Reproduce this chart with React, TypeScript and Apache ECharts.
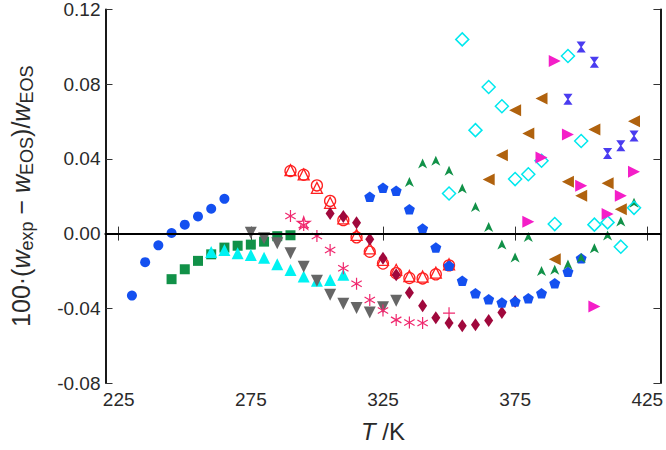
import React, { useEffect, useRef } from "react";
import * as echarts from "echarts";

// ---- data (T in K, deviation in %) ----
const xTicks = [225, 275, 325, 375, 425];

const blueCircleT = [230, 235, 240, 245, 250, 255, 260, 265];
const blueCircleY = [-0.0332, -0.0153, -0.0063, 0.0003, 0.0048, 0.0092, 0.0133, 0.0186];

const greenSquareT = [245, 250, 255, 260, 265, 270, 275, 280, 285, 290];
const greenSquareY = [-0.0244, -0.0191, -0.0146, -0.0111, -0.0075, -0.0065, -0.0059, -0.0043, -0.0014, -0.0009];

const cyanTriT = [260, 265, 270, 275, 280, 285, 290, 295, 300, 305, 310];
const cyanTriY = [-0.0098, -0.0088, -0.0105, -0.0114, -0.0129, -0.0164, -0.0195, -0.023, -0.0253, -0.0248, -0.0221];

const grayT = [275, 280, 285, 290, 295, 300, 305, 310, 315, 320, 325, 330];
const grayY = [0.0005, -0.0025, -0.0052, -0.0105, -0.0177, -0.0253, -0.0328, -0.0376, -0.0399, -0.0423, -0.0394, -0.0359];

const redT = [290, 295, 300, 305, 310, 315, 320, 325, 330, 335, 340, 345, 350];
const redTriY = [0.034, 0.0317, 0.0245, 0.0165, 0.0082, -0.0007, -0.0079, -0.0141, -0.0194, -0.0227, -0.023, -0.0209, -0.0164];
const redCircY = [0.0335, 0.0315, 0.0258, 0.0175, 0.0072, -0.002, -0.0097, -0.016, -0.0212, -0.0238, -0.024, -0.0218, -0.017];

const pinkAstT = [290, 295, 300, 305, 310, 315, 320, 325, 330, 335, 340];
const pinkAstY = [0.0094, 0.0046, -0.0013, -0.0088, -0.0185, -0.0269, -0.0355, -0.0412, -0.0462, -0.0476, -0.0479];
const pinkStarT = [295];
const pinkStarY = [0.0057];
const pinkPlusT = [350];
const pinkPlusY = [-0.0426];

const maroonT = [305, 310, 315, 320, 325, 330, 335, 340, 345, 350, 355, 360, 365, 370, 375];
const maroonY = [0.0108, 0.0092, 0.0058, -0.003, -0.0132, -0.0221, -0.0317, -0.0387, -0.0451, -0.0479, -0.0494, -0.0488, -0.0465, -0.0422, -0.0364];

const pentT = [320, 325, 330, 335, 340, 345, 350, 355, 360, 365, 370, 375, 380, 385, 390, 395, 400];
const pentY = [0.0197, 0.0245, 0.0229, 0.013, 0.0027, -0.0074, -0.0172, -0.0253, -0.0319, -0.0351, -0.0369, -0.0364, -0.0346, -0.0319, -0.0266, -0.0204, -0.0132];

const arrowT = [335, 340, 345, 350, 355, 360, 365, 370, 375, 380, 385, 390, 395, 400, 405, 410, 415, 420];
const arrowY = [0.0276, 0.0376, 0.039, 0.0336, 0.0242, 0.0142, 0.0035, -0.0059, -0.0128, -0.0018, -0.02, -0.0194, -0.0165, -0.013, -0.0079, -0.001, 0.0065, 0.0165];

const diamondT = [350, 355, 360, 365, 370, 375, 380, 385, 390, 395, 400, 405, 410, 415, 420];
const diamondY = [0.0215, 0.104, 0.0554, 0.0785, 0.0682, 0.0292, 0.0318, 0.039, 0.0051, 0.0951, 0.0496, 0.0048, 0.006, -0.007, 0.0138];

const magentaT = [380, 385, 390, 395, 400, 405, 410, 415, 420];
const magentaY = [0.0064, 0.0408, 0.0924, 0.0531, 0.0256, -0.0391, 0.0105, 0.0203, 0.0331];

const brownT = [365, 370, 375, 380, 385, 390, 395, 400, 405, 410, 415, 420];
const brownY = [0.029, 0.042, 0.066, 0.0536, 0.0723, -0.0138, 0.0277, 0.0203, 0.0557, 0.0269, 0.0131, 0.0602];

const hourT = [395, 400, 405, 410, 415, 420];
const hourY = [0.0719, 0.0999, 0.0918, 0.0429, 0.047, 0.0523];

const zip = (xs: number[], ys: number[]) => xs.map((x, i) => [x, ys[i]]);

const FONT = "Liberation Sans";
const TXT = "#2a2a2a";

const P_ASTERISK = "path://M0,-6L0,6M-5.2,-3L5.2,3M-5.2,3L5.2,-3";
const P_PLUS = "path://M0,-6L0,6M-6,0L6,0";
const P_STAR = "path://M0,-6L1.4,-1.9L5.7,-1.9L2.2,0.7L3.5,4.9L0,2.3L-3.5,4.9L-2.2,0.7L-5.7,-1.9L-1.4,-1.9Z";
const P_PENT = "path://M0,-5L4.76,-1.55L2.94,4.05L-2.94,4.05L-4.76,-1.55Z";
const P_ARROW = "path://M0,-6L5,5L0,2L-5,5Z";
const P_HOUR = "path://M-5,-6L5,-6L0.7,0L5,6L-5,6L-0.7,0Z";

export default function App() {
  const ref = useRef<HTMLDivElement>(null);
  useEffect(() => {
    if (!ref.current) return;
    const chart = echarts.init(ref.current, null, { renderer: "svg" });
    const filled = (name: string, data: number[][], symbol: string, size: any, color: string, rotate = 0, extra: any = {}) => ({
      name,
      type: "scatter",
      data,
      symbol,
      symbolSize: size,
      symbolRotate: rotate,
      symbolKeepAspect: true,
      itemStyle: { color, opacity: 1 },
      ...extra,
    });
    const open = (name: string, data: number[][], symbol: string, size: number, color: string, width = 1.3) => ({
      name,
      type: "scatter",
      data,
      symbol,
      symbolSize: size,
      symbolKeepAspect: true,
      itemStyle: { color: "transparent", borderColor: color, borderWidth: width, opacity: 1 },
    });

    const axisLine = { show: true, lineStyle: { color: "#000", width: 1.8 } };
    const tick = { show: true, inside: true, length: 7, lineStyle: { color: "#333", width: 1 } };
    chart.setOption({
      animation: false,
      grid: { left: 102, right: 4, top: 9, bottom: 67 },
      xAxis: [
        {
          type: "value",
          min: 220,
          max: 430,
          position: "bottom",
          axisLine,
          splitLine: { show: false },
          axisTick: { ...tick, customValues: xTicks },
          axisLabel: { show: true, customValues: xTicks, margin: 7, fontFamily: FONT, fontSize: 19, color: TXT },
          name: "{i|T}{n| /K}",
          nameLocation: "middle",
          nameGap: 36,
          nameTextStyle: {
            fontFamily: FONT,
            color: TXT,
            rich: {
              i: { fontFamily: FONT, fontSize: 24, fontStyle: "italic", color: TXT },
              n: { fontFamily: FONT, fontSize: 24, color: TXT },
            },
          },
        },
        {
          type: "value",
          min: 220,
          max: 430,
          position: "top",
          axisLine,
          splitLine: { show: false },
          axisTick: { ...tick, customValues: xTicks },
          axisLabel: { show: false },
        },
      ],
      yAxis: [
        {
          type: "value",
          min: -0.08,
          max: 0.12,
          interval: 0.04,
          position: "left",
          axisLine,
          splitLine: { show: false },
          axisTick: tick,
          axisLabel: {
            margin: 5,
            fontFamily: FONT,
            fontSize: 19,
            color: TXT,
            formatter: (v: number) => (Math.abs(v) < 1e-9 ? "0.00" : v.toFixed(2)),
          },
          name: "{n|100·(}{i|w}{s|exp}{n| − }{i|w}{s|EOS}{n|)/}{i|w}{s|EOS}",
          nameLocation: "middle",
          nameGap: 70,
          nameTextStyle: {
            fontFamily: FONT,
            color: TXT,
            rich: {
              n: { fontFamily: FONT, fontSize: 25, lineHeight: 30, color: TXT },
              i: { fontFamily: FONT, fontSize: 25, lineHeight: 30, fontStyle: "italic", color: TXT },
              s: { fontFamily: FONT, fontSize: 18, lineHeight: 18, verticalAlign: "bottom", color: TXT },
            },
          },
        },
        {
          type: "value",
          min: -0.08,
          max: 0.12,
          interval: 0.04,
          position: "right",
          axisLine,
          splitLine: { show: false },
          axisTick: tick,
          axisLabel: { show: false },
        },
      ],
      series: [
        filled("blueCircle", zip(blueCircleT, blueCircleY), "circle", 10, "#1450f0", 0, {
          markLine: {
            silent: true,
            symbol: "none",
            label: { show: false },
            lineStyle: { color: "#000", width: 1.8, type: "solid" },
            data: [{ yAxis: 0 }],
          },
        }),
        filled("greenSquare", zip(greenSquareT, greenSquareY), "rect", 10, "#119148"),
        filled("cyanTri", zip(cyanTriT, cyanTriY), "triangle", 12, "#00f2f2"),
        filled("grayTri", zip(grayT, grayY), "triangle", 12, "#666666", 180),
        open("redTri", zip(redT, redTriY), "triangle", 11, "#ff2020"),
        open("redCirc", zip(redT, redCircY), "circle", 11, "#ff2020"),
        open("pinkAst", zip(pinkAstT, pinkAstY), P_ASTERISK, 12, "#f0286e", 1.2),
        open("pinkStar", zip(pinkStarT, pinkStarY), P_STAR, 13, "#f0286e", 1.2),
        open("pinkPlus", zip(pinkPlusT, pinkPlusY), P_PLUS, 12, "#f0286e", 1.2),
        filled("maroon", zip(maroonT, maroonY), "diamond", [9, 13], "#a0083c", 0, { symbolKeepAspect: false }),
        filled("pent", zip(pentT, pentY), P_PENT, 11, "#1450f0"),
        filled("arrow", zip(arrowT, arrowY), P_ARROW, 10, "#119148"),
        open("diamond", zip(diamondT, diamondY), "diamond", 13, "#00e8ee", 1.5),
        filled("brown", zip(brownT, brownY), "triangle", 12, "#b0620e", 90),
        filled("magenta", zip(magentaT, magentaY), "triangle", 12, "#f41ec8", -90),
        filled("hour", zip(hourT, hourY), P_HOUR, 11, "#4a3cf0"),
      ],
    });
    return () => chart.dispose();
  }, []);
  return <div ref={ref} style={{ width: 666, height: 450, position: "absolute", left: 0, top: 0 }} />;
}
